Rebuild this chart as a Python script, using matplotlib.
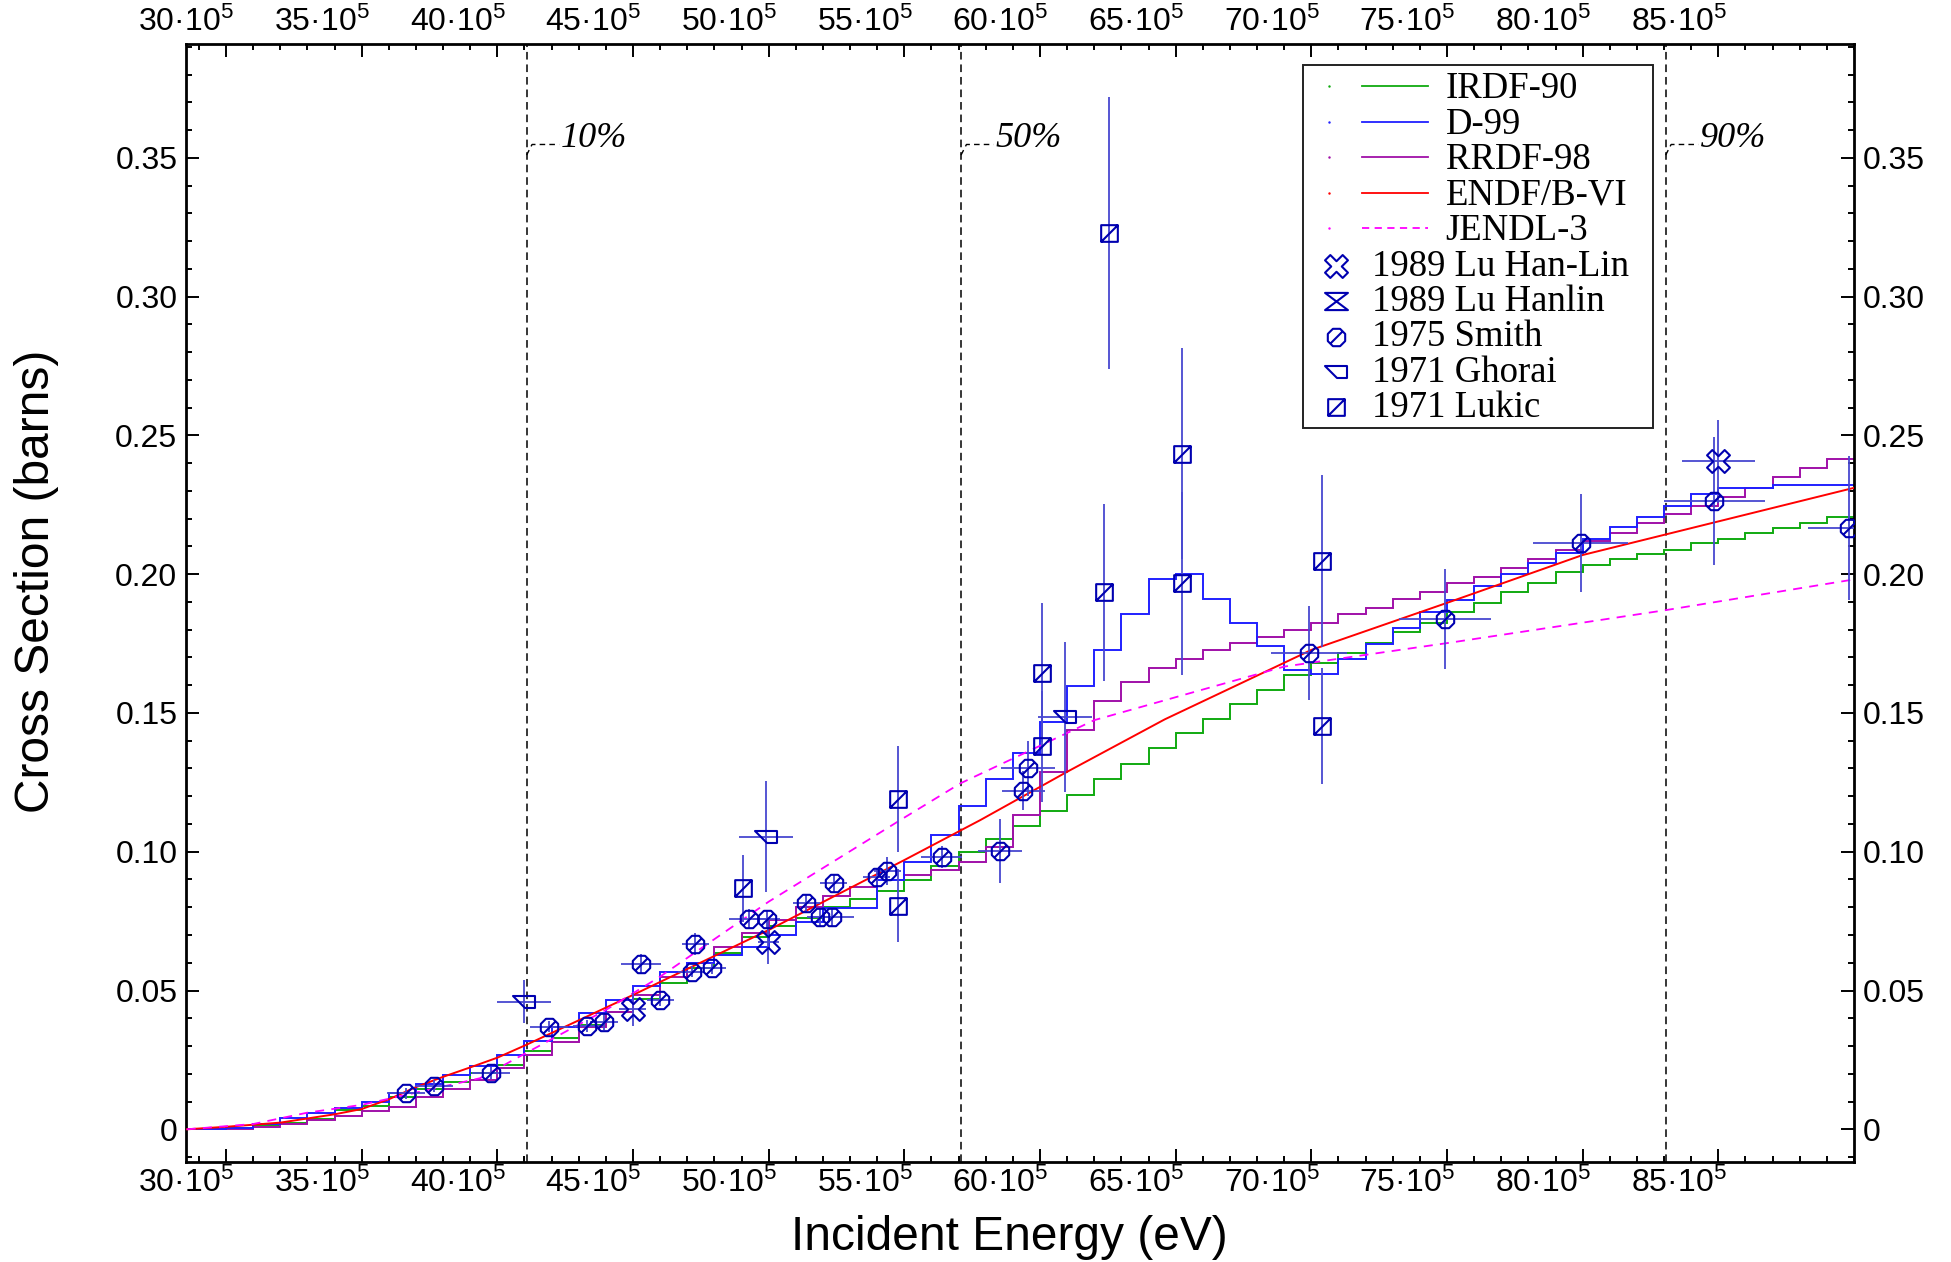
import numpy as np
import matplotlib
matplotlib.use('Agg')
import matplotlib.pyplot as plt
from matplotlib.path import Path
from matplotlib.lines import Line2D
from matplotlib.patches import Rectangle
from matplotlib.ticker import FixedLocator, MultipleLocator
import matplotlib.transforms as mtransforms

plt.rcParams['font.family'] = ['Liberation Sans', 'DejaVu Sans']
plt.rcParams['mathtext.fontset'] = 'custom'
plt.rcParams['mathtext.rm'] = 'Liberation Sans'
plt.rcParams['mathtext.it'] = 'Liberation Sans:italic'
plt.rcParams['mathtext.bf'] = 'Liberation Sans:bold'

# ---- data (energies in units of 10^5 eV, cross sections in barns) ----
group_edges = [28, 29, 30, 31, 32, 33, 34, 35, 36, 37, 38, 39, 40, 41, 42, 43, 44, 45, 46, 47,
               48, 49, 50, 51, 52, 53, 54, 55, 56, 57, 58, 59, 60, 61, 62, 63, 64, 65, 66, 67,
               68, 69, 70, 71, 72, 73, 74, 75, 76, 77, 78, 79, 80, 81, 82, 83, 84, 85, 86, 87,
               88, 89, 90]

irdf90 = [0.0, 0.0, 0.0003, 0.0015, 0.0024, 0.0036, 0.0070, 0.0084, 0.0115, 0.0146,
          0.0170, 0.0202, 0.0233, 0.0283, 0.0330, 0.0375, 0.0424, 0.0468, 0.0526, 0.0582,
          0.0634, 0.0692, 0.0732, 0.0760, 0.0800, 0.0829, 0.0860, 0.0899, 0.0948, 0.0998,
          0.1045, 0.1093, 0.1148, 0.1204, 0.1261, 0.1316, 0.1372, 0.1429, 0.1478, 0.1532,
          0.1582, 0.1638, 0.1679, 0.1717, 0.1751, 0.1791, 0.1823, 0.1862, 0.1895, 0.1934,
          0.1969, 0.2009, 0.2032, 0.2054, 0.2071, 0.2087, 0.2111, 0.2126, 0.2150, 0.2167,
          0.2183, 0.2207]

d99 = [0.0, 0.0, 0.0004, 0.0019, 0.0042, 0.0059, 0.0076, 0.0098, 0.0130, 0.0162,
       0.0194, 0.0227, 0.0267, 0.0318, 0.0370, 0.0420, 0.0466, 0.0516, 0.0565, 0.0600,
       0.0628, 0.0658, 0.0700, 0.0748, 0.0796, 0.0796, 0.0898, 0.0964, 0.1060, 0.1165,
       0.1261, 0.1357, 0.1468, 0.1598, 0.1727, 0.1855, 0.1982, 0.1999, 0.1910, 0.1823,
       0.1742, 0.1655, 0.1639, 0.1694, 0.1748, 0.1806, 0.1862, 0.1907, 0.1957, 0.1999,
       0.2039, 0.2077, 0.2125, 0.2169, 0.2207, 0.2246, 0.2287, 0.2311, 0.2311, 0.2320,
       0.2320, 0.2320]

rrdf98 = [0.0, 0.0, 0.0, 0.0009, 0.0019, 0.0034, 0.0049, 0.0066, 0.0081, 0.0117,
          0.0146, 0.0178, 0.0220, 0.0267, 0.0316, 0.0370, 0.0424, 0.0484, 0.0548, 0.0600,
          0.0658, 0.0706, 0.0754, 0.0802, 0.0840, 0.0874, 0.0898, 0.0916, 0.0934, 0.0964,
          0.1018, 0.1132, 0.1286, 0.1438, 0.1542, 0.1613, 0.1661, 0.1694, 0.1727, 0.1751,
          0.1775, 0.1798, 0.1823, 0.1855, 0.1879, 0.1910, 0.1934, 0.1967, 0.1991, 0.2023,
          0.2054, 0.2087, 0.2119, 0.2150, 0.2183, 0.2215, 0.2246, 0.2279, 0.2311, 0.2351,
          0.2383, 0.2416]

endf_e = [28.55, 30.0, 32.0, 34.0, 35.0, 36.0, 37.0, 38.0, 39.0, 40.0, 41.06, 45.0, 50.0,
          55.0, 57.8, 61.0, 64.6, 70.0, 75.1, 80.0, 83.1, 90.0]
endf_s = [0.0, 0.0009, 0.0024, 0.0054, 0.0073, 0.0108, 0.0152, 0.0189, 0.0223, 0.0258,
          0.0304, 0.0484, 0.0718, 0.0970, 0.1114, 0.1288, 0.1477, 0.1727, 0.1900, 0.2069,
          0.2144, 0.2311]

jendl_e = [28.55, 31.0, 33.0, 35.0, 39.36, 41.06, 44.0, 46.0, 50.0, 54.85, 57.06, 62.0,
           69.0, 75.1, 83.1, 90.0]
jendl_s = [0.0, 0.0019, 0.0060, 0.0088, 0.0184, 0.0275, 0.0430, 0.0550, 0.0820, 0.1114,
           0.1246, 0.1474, 0.1667, 0.1753, 0.1871, 0.1981]

smith_e = [36.63, 37.67, 39.76, 41.92, 43.29, 43.93, 45.30, 46.00, 47.16, 47.29, 47.92,
           49.29, 49.93, 51.38, 51.90, 52.33, 52.39, 53.98, 54.37, 56.38, 58.53, 59.39,
           59.55, 69.93, 74.93, 79.93, 84.85, 89.80]
smith_s = [0.0130, 0.0156, 0.0203, 0.0370, 0.0372, 0.0388, 0.0595, 0.0466, 0.0568, 0.0667,
           0.0580, 0.0756, 0.0756, 0.0814, 0.0764, 0.0764, 0.0886, 0.0910, 0.0930, 0.0980,
           0.1004, 0.1220, 0.1300, 0.1717, 0.1837, 0.2111, 0.2263, 0.2167]
smith_de = [0.7, 0.7, 0.7, 0.7, 0.5, 0.5, 0.75, 0.5, 0.5, 0.5, 0.5, 0.75, 0.5, 0.5, 0.5,
            0.8, 0.5, 0.5, 0.5, 0.75, 0.8, 0.8, 1.0, 1.4, 1.7, 1.75, 1.86, 1.5]
smith_ds = [0.002, 0.002, 0.002, 0.002, 0.002, 0.003, 0.0036, 0.002, 0.002, 0.004, 0.002,
            0.0036, 0.003, 0.003, 0.003, 0.003, 0.003, 0.003, 0.005, 0.004, 0.0115, 0.007,
            0.010, 0.017, 0.018, 0.0177, 0.023, 0.026]

lukic_e = [49.07, 54.78, 54.78, 60.06, 60.06, 62.37, 62.55, 65.22, 65.22, 70.38, 70.38]
lukic_s = [0.0868, 0.0806, 0.1190, 0.1380, 0.1645, 0.1934, 0.3230, 0.1967, 0.2433, 0.2047,
           0.1453]
lukic_ds = [0.012, 0.013, 0.019, 0.020, 0.025, 0.032, 0.049, 0.033, 0.038, 0.031, 0.021]

ghorai_e = [40.99, 49.90, 60.92]
ghorai_s = [0.0460, 0.1054, 0.1486]
ghorai_de = [1.0, 1.0, 1.0]
ghorai_ds = [0.0078, 0.020, 0.027]

luhl_e = [44.99, 49.99, 85.0]
luhl_s = [0.0432, 0.0676, 0.2407]
luhl_de = [0.5, 0.4, 1.35]
luhl_ds = [0.006, 0.008, 0.015]

luh_e = []   # 1989 Lu Hanlin: no point visible in the window
luh_s = []

pct_energy = [41.08, 57.09, 83.06]
pct_label = ['10%', '50%', '90%']

xtick_vals = [30, 35, 40, 45, 50, 55, 60, 65, 70, 75, 80, 85]
ytick_vals = [0, 0.05, 0.10, 0.15, 0.20, 0.25, 0.30, 0.35]
ytick_text = ['0', '0.05', '0.10', '0.15', '0.20', '0.25', '0.30', '0.35']

# ---- markers ----
ang = np.deg2rad(22.5 + 45 * np.arange(8))
octv = np.column_stack([np.cos(ang), np.sin(ang)])
smith_mk = Path(np.vstack([octv, octv[:1], [[-0.62, -0.62], [0.62, 0.62]]]),
                [Path.MOVETO] + [Path.LINETO] * 7 + [Path.CLOSEPOLY, Path.MOVETO, Path.LINETO])
lukic_mk = Path([[-1, -1], [1, -1], [1, 1], [-1, 1], [-1, -1], [-1, -1], [1, 1]],
                [Path.MOVETO, Path.LINETO, Path.LINETO, Path.LINETO, Path.CLOSEPOLY,
                 Path.MOVETO, Path.LINETO])
a = 0.3
plus = np.array([[a, 1], [-a, 1], [-a, a], [-1, a], [-1, -a], [-a, -a], [-a, -1], [a, -1],
                 [a, -a], [1, -a], [1, a], [a, a], [a, 1]])
rot = np.array([[np.cos(np.pi / 4), -np.sin(np.pi / 4)], [np.sin(np.pi / 4), np.cos(np.pi / 4)]])
xcross = plus @ rot.T
luhl_mk = Path(xcross, [Path.MOVETO] + [Path.LINETO] * 11 + [Path.CLOSEPOLY])
luh_mk = Path([[-1, 0.75], [1, 0.75], [-1, -0.75], [1, -0.75], [-1, 0.75]],
              [Path.MOVETO, Path.LINETO, Path.LINETO, Path.LINETO, Path.CLOSEPOLY])
ghorai_mk = Path([[-1, 0.5], [1, 0.5], [1, -0.5], [0.1, -0.5], [-1, 0.5]],
                 [Path.MOVETO, Path.LINETO, Path.LINETO, Path.LINETO, Path.CLOSEPOLY])

c_green = '#10aa10'
c_blue = '#2020ff'
c_purple = '#a010a8'
c_red = '#ff0000'
c_mag = '#ff00ff'
c_mk = '#0000b0'
c_err = '#4848d0'

W, H = 1951, 1262
fig = plt.figure(figsize=(W / 100, H / 100), dpi=100)
ax = fig.add_axes([185.7 / W, 1 - 1162 / H, (1854 - 185.7) / W, (1162 - 44) / H])

edges = np.array(group_edges) * 1e5
ax.stairs(irdf90, edges, color=c_green, lw=1.4, baseline=None, zorder=2)
ax.stairs(rrdf98, edges, color=c_purple, lw=1.4, baseline=None, zorder=2)
ax.stairs(d99, edges, color=c_blue, lw=1.4, baseline=None, zorder=2)
ax.plot(np.array(endf_e) * 1e5, endf_s, color=c_red, lw=1.4, zorder=3)
ax.plot(np.array(jendl_e) * 1e5, jendl_s, color=c_mag, lw=1.3, ls=(0, (5, 4)), zorder=3)

for e, lab in zip(pct_energy, pct_label):
    ax.axvline(e * 1e5, color='k', lw=1.1, ls=(0, (5, 3.2)), zorder=1)
    ax.plot([e * 1e5, (e + 0.2) * 1e5, (e + 1.2) * 1e5], [0.3510, 0.3548, 0.3548],
            color='k', lw=1.0, ls=(0, (4, 3)))
    ax.text((e + 1.26) * 1e5, 0.3538, lab, family='Liberation Serif', style='italic',
            fontsize=26, ha='left', va='baseline')

# experimental data
ax.errorbar(np.array(smith_e) * 1e5, smith_s, xerr=np.array(smith_de) * 1e5, yerr=smith_ds,
            fmt='none', ecolor=c_err, elinewidth=1.3, capsize=0, zorder=4)
ax.errorbar(np.array(lukic_e) * 1e5, lukic_s, yerr=lukic_ds,
            fmt='none', ecolor=c_err, elinewidth=1.3, capsize=0, zorder=4)
ax.errorbar(np.array(ghorai_e) * 1e5, ghorai_s, xerr=np.array(ghorai_de) * 1e5, yerr=ghorai_ds,
            fmt='none', ecolor=c_err, elinewidth=1.3, capsize=0, zorder=4)
ax.errorbar(np.array(luhl_e) * 1e5, luhl_s, xerr=np.array(luhl_de) * 1e5, yerr=luhl_ds,
            fmt='none', ecolor=c_err, elinewidth=1.3, capsize=0, zorder=4)

mk_kw = dict(ls='none', mfc='none', mec=c_mk, mew=1.5, zorder=5)
ax.plot(np.array(smith_e) * 1e5, smith_s, marker=smith_mk, ms=12.5, **mk_kw)
ax.plot(np.array(lukic_e) * 1e5, lukic_s, marker=lukic_mk, ms=12, **mk_kw)
ax.plot(np.array(ghorai_e) * 1e5, ghorai_s, marker=ghorai_mk, ms=16, **mk_kw)
ax.plot(np.array(luhl_e) * 1e5, luhl_s, marker=luhl_mk, ms=16.5, **mk_kw)
ax.plot(np.array(luh_e) * 1e5, luh_s, marker=luh_mk, ms=16.5, **mk_kw)

# axes
ax.set_xlim(28.515e5, 90e5)
ax.set_ylim(-0.01178, 0.3910)
ax.xaxis.set_major_locator(FixedLocator([v * 1e5 for v in xtick_vals]))
ax.xaxis.set_minor_locator(MultipleLocator(1e5))
ax.set_xticklabels(['%d·10$^{5}$' % v for v in xtick_vals])
ax.set_yticks(ytick_vals)
ax.set_yticklabels(ytick_text)
ax.yaxis.set_minor_locator(MultipleLocator(0.01))
ax.tick_params(which='both', direction='in', top=True, right=True, labeltop=True,
               labelright=True, labelsize=23, width=1.4, color='k')
ax.tick_params(which='major', length=9.4)
ax.tick_params(which='minor', length=4)
ax.tick_params(axis='x', which='major', pad=4)
ax.tick_params(axis='y', which='major', pad=6)
for sp in ax.spines.values():
    sp.set_linewidth(2.0)

shift = mtransforms.ScaledTranslation(8 / 100, 0, fig.dpi_scale_trans)
for t in ax.xaxis.get_major_ticks():
    for lb in (t.label1, t.label2):
        lb.set_horizontalalignment('right')
        lb.set_transform(lb.get_transform() + shift)

fig.text(37 / W, 1 - 581 / H, 'Cross Section (barns)', rotation=90, fontsize=34.5,
         ha='center', va='center')
fig.text(1009 / W, 1 - 1238 / H, 'Incident Energy (eV)', fontsize=34.5,
         ha='center', va='center')

# legend drawn by hand to match the tight row spacing
lx0, ly0, lx1, ly1 = 1303, 65, 1653, 428
fig.add_artist(Rectangle((lx0 / W, 1 - ly1 / H), (lx1 - lx0) / W, (ly1 - ly0) / H,
                         transform=fig.transFigure, facecolor='white', edgecolor='#222222',
                         lw=1.4, zorder=6))
line_entries = [('IRDF-90', c_green, '-'), ('D-99', c_blue, '-'), ('RRDF-98', c_purple, '-'),
                ('ENDF/B-VI', c_red, '-'), ('JENDL-3', c_mag, (0, (4, 3)))]
mark_entries = [('1989 Lu Han-Lin', luhl_mk, 16.5), ('1989 Lu Hanlin', luh_mk, 16.5),
                ('1975 Smith', smith_mk, 12.5), ('1971 Ghorai', ghorai_mk, 16),
                ('1971 Lukic', lukic_mk, 12)]
row = 0
for lab, col, ls in line_entries:
    yc = 86 + 35.5 * row
    fig.add_artist(Line2D([1361.7 / W, 1428.3 / W], [1 - yc / H, 1 - yc / H], color=col,
                          lw=1.3, ls=ls, transform=fig.transFigure, zorder=7))
    fig.add_artist(Line2D([1329 / W], [1 - yc / H], color=col, marker='.', ms=1.5, ls='none',
                          transform=fig.transFigure, zorder=7))
    fig.text(1445.7 / W, 1 - (yc + 12) / H, lab, family='Liberation Serif', fontsize=26.5,
             ha='left', va='baseline', zorder=7)
    row += 1
for lab, mk, ms in mark_entries:
    yc = 86 + 35.5 * row
    fig.add_artist(Line2D([1336 / W], [1 - (yc + 2) / H], marker=mk, ms=ms, mfc='none',
                          mec=c_mk, mew=1.5, ls='none', transform=fig.transFigure, zorder=7))
    fig.text(1371.7 / W, 1 - (yc + 12) / H, lab, family='Liberation Serif', fontsize=26.5,
             ha='left', va='baseline', zorder=7)
    row += 1

fig.savefig('out.png', dpi=100)
